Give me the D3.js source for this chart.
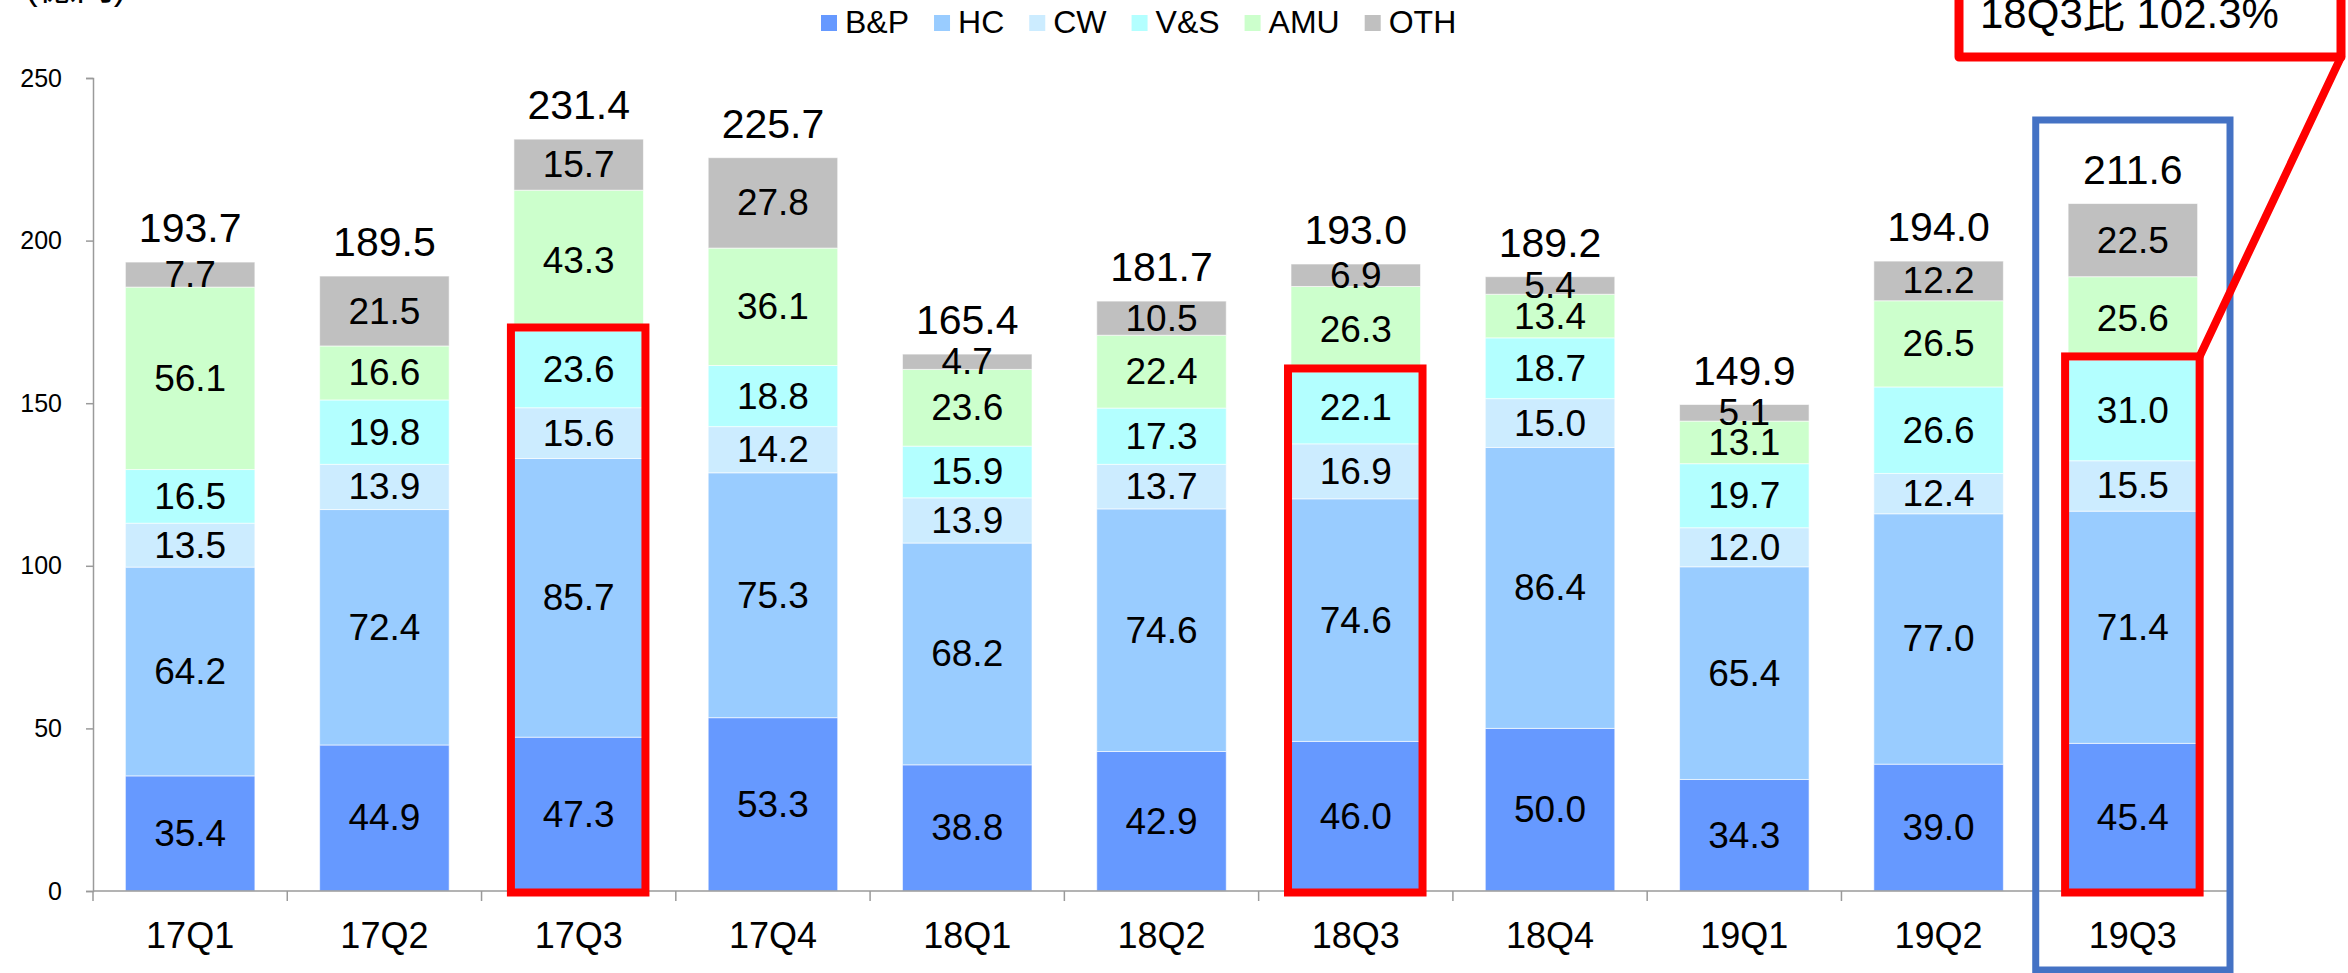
<!DOCTYPE html>
<html><head><meta charset="utf-8">
<script src="https://cdn.jsdelivr.net/npm/d3@7"></script>
<style>
html,body{margin:0;padding:0;background:#fff;overflow:hidden;}
svg{display:block;}
text{font-family:"Liberation Sans",Arial,"Noto Sans CJK JP",sans-serif;fill:#000;}
</style></head>
<body>
<svg id="chart" width="2348" height="973"></svg>
<script>
const categories = ["17Q1","17Q2","17Q3","17Q4","18Q1","18Q2","18Q3","18Q4","19Q1","19Q2","19Q3"];
const seriesNames = ["B&P","HC","CW","V&S","AMU","OTH"];
const seriesColors = ["#6699FF","#99CCFF","#CCECFF","#B3FFFF","#CCFFCC","#C0C0C0"];
const bpValues  = [35.4,44.9,47.3,53.3,38.8,42.9,46.0,50.0,34.3,39.0,45.4];
const hcValues  = [64.2,72.4,85.7,75.3,68.2,74.6,74.6,86.4,65.4,77.0,71.4];
const cwValues  = [13.5,13.9,15.6,14.2,13.9,13.7,16.9,15.0,12.0,12.4,15.5];
const vsValues  = [16.5,19.8,23.6,18.8,15.9,17.3,22.1,18.7,19.7,26.6,31.0];
const amuValues = [56.1,16.6,43.3,36.1,23.6,22.4,26.3,13.4,13.1,26.5,25.6];
const othValues = [7.7,21.5,15.7,27.8,4.7,10.5,6.9,5.4,5.1,12.2,22.5];
const totalLabels = ["193.7","189.5","231.4","225.7","165.4","181.7","193.0","189.2","149.9","194.0","211.6"];
const yTicks = [0,50,100,150,200,250];
const highlighted = ["17Q3","18Q3","19Q3"];
const focusCategory = "19Q3";
const unitLabel = "(億円)";
const calloutText = "18Q3比 102.3%";

const seriesValues = [bpValues,hcValues,cwValues,vsValues,amuValues,othValues];
const rows = categories.map((c,i)=>{
  const r = {cat:c};
  seriesNames.forEach((s,k)=>r[s]=seriesValues[k][i]);
  return r;
});
const stacked = d3.stack().keys(seriesNames)(rows);

const svg = d3.select("#chart");
const x = d3.scaleBand().domain(categories).range([93,2230]).paddingInner(1/3).paddingOuter(1/6);
const y = d3.scaleLinear().domain([0,250]).range([891,78]);
const bw = x.bandwidth();
const step = x.step();

// unit label (partly cut off at top)
svg.append("text").attr("x",25).attr("y",-1).attr("font-size",38).text(unitLabel);

// y axis
const ya = svg.append("g").attr("transform","translate(93,0)")
  .call(d3.axisLeft(y).tickValues(yTicks).tickSize(7).tickSizeOuter(7).tickPadding(24));
ya.selectAll("path,line").attr("stroke","#9a9a9a").attr("stroke-width",1.5);
ya.selectAll("text").attr("font-size",25).attr("fill","#000")
  .style("font-family","'Liberation Sans',Arial,sans-serif");

// bars
const layer = svg.append("g").selectAll("g").data(stacked).join("g")
  .attr("fill",(d,i)=>seriesColors[i]);
layer.selectAll("rect").data(d=>d).join("rect")
  .attr("x",d=>x(d.data.cat)).attr("width",bw)
  .attr("y",d=>y(d[1])).attr("height",d=>y(d[0])-y(d[1]))
  .attr("stroke","#ffffff").attr("stroke-opacity",0.6).attr("stroke-width",1);

// segment labels
const lab = svg.append("g");
stacked.forEach(s=>{
  lab.selectAll(null).data(s).join("text")
    .attr("x",d=>x(d.data.cat)+bw/2)
    .attr("y",d=>(y(d[0])+y(d[1]))/2)
    .attr("text-anchor","middle").attr("dominant-baseline","central")
    .attr("font-size",37)
    .text(d=>(d[1]-d[0]).toFixed(1));
});

// totals
const tops = stacked[stacked.length-1];
svg.append("g").selectAll("text").data(tops).join("text")
  .attr("x",d=>x(d.data.cat)+bw/2).attr("y",d=>y(d[1])-20)
  .attr("text-anchor","middle").attr("font-size",41)
  .text((d,i)=>totalLabels[i]);

// x axis
svg.append("line").attr("x1",93).attr("x2",x.range()[1]).attr("y1",y(0)).attr("y2",y(0))
  .attr("stroke","#9a9a9a").attr("stroke-width",1.5);
svg.append("g").selectAll("line").data(d3.range(categories.length+1)).join("line")
  .attr("x1",i=>93+i*step).attr("x2",i=>93+i*step).attr("y1",y(0)).attr("y2",y(0)+10)
  .attr("stroke","#9a9a9a").attr("stroke-width",1.5);
svg.append("g").selectAll("text").data(categories).join("text")
  .attr("x",c=>x(c)+bw/2).attr("y",948).attr("text-anchor","middle").attr("font-size",36)
  .text(c=>c);

// legend
const lg = svg.append("g");
let lx = 821;
seriesNames.forEach((s,i)=>{
  lg.append("rect").attr("x",lx).attr("y",15).attr("width",16).attr("height",16).attr("fill",seriesColors[i]);
  const t = lg.append("text").attr("x",lx+24).attr("y",33).attr("font-size",32).text(s);
  lx += 24 + t.node().getComputedTextLength() + 25;
});

// blue focus box
const fx = x(focusCategory) - x.paddingOuter()*step;
svg.append("rect").attr("x",fx).attr("y",120).attr("width",step).attr("height",850)
  .attr("fill","none").attr("stroke","#4472C4").attr("stroke-width",7);

// red highlight boxes (B&P..V&S)
const vsLayer = stacked[3];
let focusCorner = null;
highlighted.forEach(c=>{
  const d = vsLayer.find(v=>v.data.cat===c);
  const x0 = x(c)-3, x1 = x(c)+bw+2, y0 = y(d[1])-3.5, y1 = y(0)+1.5;
  svg.append("rect").attr("x",x0).attr("y",y0).attr("width",x1-x0).attr("height",y1-y0)
    .attr("fill","none").attr("stroke","#FF0000").attr("stroke-width",8);
  if(c===focusCategory) focusCorner=[x1,y0];
});

// callout
const cb = {x0:1959,x1:2341,y0:-40,y1:57};
svg.append("path")
  .attr("d",`M${cb.x1},${cb.y1}L${focusCorner[0]},${focusCorner[1]}`)
  .attr("stroke","#FF0000").attr("stroke-width",8).attr("fill","none").attr("stroke-linecap","round");
svg.append("rect").attr("x",cb.x0).attr("y",cb.y0).attr("width",cb.x1-cb.x0).attr("height",cb.y1-cb.y0)
  .attr("fill","#fff").attr("stroke","#FF0000").attr("stroke-width",9).attr("stroke-linejoin","round");
svg.append("text").attr("x",1980).attr("y",28).attr("font-size",42).text(calloutText);
</script>
</body></html>
